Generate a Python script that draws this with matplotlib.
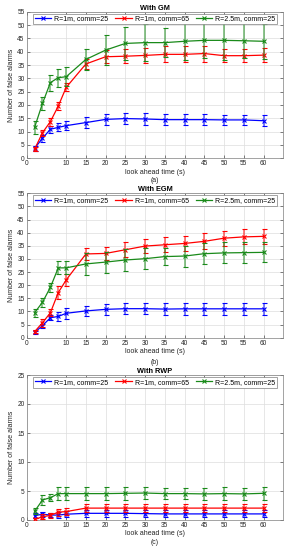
import matplotlib
matplotlib.use("Agg")
import matplotlib.pyplot as plt
from matplotlib.lines import Line2D
import numpy as np

plt.rcParams['font.family'] = ['Liberation Sans', 'DejaVu Sans']

x = [2, 4, 6, 8, 10, 15, 20, 25, 30, 35, 40, 45, 50, 55, 60]
labels = ["R=1m, comm=25", "R=1m, comm=65", "R=2.5m, comm=25"]
titles = ["With GM", "With EGM", "With RWP"]
captions = ["(a)", "(b)", "(c)"]
ylims = [55, 55, 25]

# Panel (a) GM
gm_blue = [3.75, 7.5, 10.9, 11.6, 12.25, 13.4, 14.6, 14.9, 14.75, 14.5, 14.5, 14.5, 14.4, 14.4, 14.1]
gm_blue_err = [1.0, 1.2, 1.3, 1.5, 1.6, 2.0, 2.1, 2.2, 2.1, 2.0, 2.0, 2.0, 2.0, 2.0, 2.0]
gm_red = [3.4, 9.6, 13.75, 19.6, 26.6, 35.4, 38.1, 38.3, 38.6, 39.0, 39.0, 39.3, 38.5, 38.5, 38.7]
gm_red_err = [0.8, 1.2, 1.5, 1.5, 1.5, 2.0, 2.5, 2.7, 2.8, 3.0, 3.0, 3.0, 2.5, 2.5, 2.5]
gm_green = [11.6, 20.6, 28.4, 30.25, 30.6, 37.1, 40.6, 43.1, 43.4, 43.4, 43.9, 44.25, 44.25, 44.1, 43.9]
gm_green_err = [2.4, 2.5, 3.0, 3.4, 3.5, 4.0, 5.6, 6.2, 7.0, 5.4, 7.0, 6.5, 7.3, 6.5, 6.5]

# Panel (b) EGM
egm_blue = [2.0, 4.6, 7.6, 8.1, 9.3, 10.2, 10.8, 11.05, 11.05, 10.9, 11.0, 11.0, 11.0, 11.0, 11.0]
egm_blue_err = [0.7, 0.8, 1.0, 1.7, 2.0, 2.0, 2.0, 2.2, 2.2, 2.2, 2.2, 2.2, 2.2, 2.2, 2.2]
egm_red = [2.3, 5.7, 9.5, 17.2, 22.0, 31.9, 32.1, 33.5, 34.9, 35.4, 35.9, 36.7, 37.9, 38.4, 38.6]
egm_red_err = [0.6, 1.5, 1.4, 2.5, 2.2, 2.2, 2.5, 2.9, 2.8, 2.8, 2.9, 3.0, 2.8, 2.9, 2.9]
egm_green = [9.5, 13.5, 19.2, 26.6, 26.6, 28.1, 28.8, 29.6, 30.1, 30.9, 31.1, 32.0, 32.3, 32.4, 32.5]
egm_green_err = [1.5, 1.8, 1.8, 2.5, 2.5, 4.3, 4.0, 4.2, 4.0, 3.3, 4.0, 4.0, 4.0, 3.9, 3.8]

# Panel (c) RWP
rwp_blue = [0.75, 1.0, 0.85, 0.85, 1.0, 1.15, 1.15, 1.15, 1.1, 1.05, 1.05, 1.05, 1.05, 1.05, 1.05]
rwp_blue_err = [0.4, 0.4, 0.4, 0.5, 0.5, 0.6, 0.6, 0.6, 0.6, 0.6, 0.6, 0.6, 0.6, 0.6, 0.6]
rwp_red = [0.1, 0.55, 0.8, 1.35, 1.45, 2.05, 2.05, 2.05, 2.05, 2.05, 2.05, 2.05, 2.05, 2.05, 2.05]
rwp_red_err = [0.2, 0.4, 0.4, 0.6, 0.6, 0.7, 0.7, 0.7, 0.7, 0.7, 0.7, 0.7, 0.7, 0.7, 0.7]
rwp_green = [1.5, 3.45, 3.85, 4.55, 4.55, 4.55, 4.55, 4.6, 4.65, 4.55, 4.55, 4.5, 4.55, 4.5, 4.6]
rwp_green_err = [0.5, 0.9, 0.6, 1.1, 1.1, 1.1, 1.1, 1.1, 1.1, 1.0, 1.0, 1.1, 1.1, 1.0, 1.1]

panels = [
    [(gm_blue, gm_blue_err), (gm_red, gm_red_err), (gm_green, gm_green_err)],
    [(egm_blue, egm_blue_err), (egm_red, egm_red_err), (egm_green, egm_green_err)],
    [(rwp_blue, rwp_blue_err), (rwp_red, rwp_red_err), (rwp_green, rwp_green_err)],
]
colors = ['#0000ff', '#ff0000', '#1a8a1a']

W, H = 290, 550
fig = plt.figure(figsize=(W / 100, H / 100), dpi=100)

ax_px = [(11.7, 158.3), (193.3, 337.7), (375.0, 520.0)]
cap_y = [180, 362.5, 542.5]
left_px, right_px = 26.7, 283.3
txt = '#262626'

for i, (top, bot) in enumerate(ax_px):
    ax = fig.add_axes([left_px / W, 1 - bot / H, (right_px - left_px) / W, (bot - top) / H])
    handles = []
    for j, (vals, errs) in enumerate(panels[i]):
        c = colors[j]
        eb = ax.errorbar(x, vals, yerr=errs, color=c, lw=0.9, marker='x', ms=2.5, mew=0.8,
                         ecolor=c, elinewidth=1.4, capsize=1.8, capthick=0.9,
                         zorder=3 + j)
        eb[2][0].set_alpha(0.5)
        handles.append(Line2D([], [], color=c, lw=0.9, marker='x', ms=2.5, mew=0.8))
    ax.set_xlim(0, 65)
    ax.set_ylim(0, ylims[i])
    ax.set_xticks([0, 10, 15, 20, 25, 30, 35, 40, 45, 50, 55, 60])
    ax.set_yticks(np.arange(0, ylims[i] + 1, 5))
    ax.grid(True, color='#dddddd', lw=0.5)
    ax.set_axisbelow(True)
    ax.tick_params(direction='in', length=2, width=0.4, labelsize=4.7, colors=txt,
                   top=True, right=True, pad=1.5)
    for s in ax.spines.values():
        s.set_color('#7f7f7f')
        s.set_linewidth(0.5)
    ax.set_title(titles[i], fontsize=5.3, fontweight='bold', pad=1.5, color='black')
    ax.set_xlabel('look ahead time (s)', fontsize=5.0, labelpad=1, color=txt)
    ax.set_ylabel('Number of false alarms', fontsize=5.0, labelpad=1.5, color=txt)
    leg = ax.legend(handles, labels, loc='upper center', bbox_to_anchor=(0.5, 1.0), ncol=3,
                    fontsize=5.0, frameon=True, fancybox=False, borderaxespad=0.3,
                    handlelength=2.4, columnspacing=1.0, handletextpad=0.4, borderpad=0.25,
                    edgecolor='#7f7f7f', framealpha=1)
    leg.get_frame().set_linewidth(0.5)
    fig.text(155 / W, 1 - cap_y[i] / H, captions[i], ha='center', va='center', fontsize=5, color=txt)

fig.savefig('out.png', dpi=100)
